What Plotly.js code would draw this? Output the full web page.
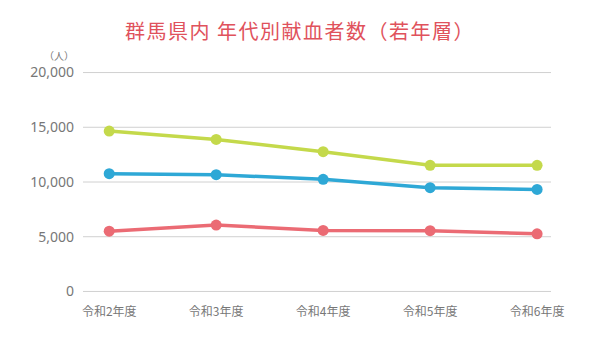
<!DOCTYPE html>
<html><head><meta charset="utf-8">
<script src="https://cdn.plot.ly/plotly-3.0.1.min.js"></script>
<style>html,body{margin:0;padding:0;background:#fff;}#c{width:600px;height:353px;}
.gtitle{letter-spacing:1.5px;}</style>
</head><body><div id="c"></div>
<script>
const categories = ["令和2年度","令和3年度","令和4年度","令和5年度","令和6年度"];
const seriesGreen = [14650, 13890, 12770, 11520, 11520];
const seriesBlue = [10760, 10670, 10240, 9480, 9320];
const seriesRed = [5510, 6060, 5580, 5550, 5270];
const yTickVals = [0, 5000, 10000, 15000, 20000];
const yTickText = ["0","5,000","10,000","15,000","20,000"];

function tr(y, color){
  return {x: categories, y: y, type:'scatter', mode:'lines+markers',
    line:{color:color, width:3.5}, marker:{color:color, size:11}, cliponaxis:false, hoverinfo:'skip'};
}
const data = [tr(seriesGreen,'#c4d94b'), tr(seriesBlue,'#2ea8d6'), tr(seriesRed,'#eb6b74')];
const gridShapes = yTickVals.map(v => ({type:'line', xref:'paper', yref:'y', x0:0, x1:1, y0:v, y1:v,
  line:{color:'#d0d0d0', width:1}, layer:'below'}));
const layout = {
  width:600, height:353, showlegend:false,
  paper_bgcolor:'#fff', plot_bgcolor:'#fff',
  margin:{l:83, r:49, t:72, b:61},
  font:{family:'"Noto Sans CJK JP", "Noto Sans", sans-serif', color:'#777'},
  title:{text:'群馬県内 年代別献血者数（若年層）', x:0.5, xanchor:'center', y:0.91, yanchor:'middle',
    font:{size:20, color:'#e0525c', family:'"Noto Sans CJK JP", sans-serif'}},
  xaxis:{type:'category', range:[-0.245, 4.13], showgrid:false, zeroline:false, showline:false,
    ticks:'', ticklabelstandoff:11, tickfont:{size:12, color:'#777'}, fixedrange:true},
  yaxis:{range:[-50,20050], tickvals:yTickVals, ticktext:yTickText, showgrid:false,
    zeroline:false, showline:false, ticks:'', ticklabelstandoff:8,
    tickfont:{size:14, color:'#777', family:'"Noto Sans", sans-serif'}, fixedrange:true},
  shapes: gridShapes,
  annotations:[{text:'（人）', xref:'paper', yref:'paper', x:-0.015, y:1.0, xanchor:'right', yanchor:'bottom',
    showarrow:false, font:{size:10, color:'#777'}, yshift:7}]
};
Plotly.newPlot('c', data, layout, {staticPlot:true, displayModeBar:false});
</script></body></html>
